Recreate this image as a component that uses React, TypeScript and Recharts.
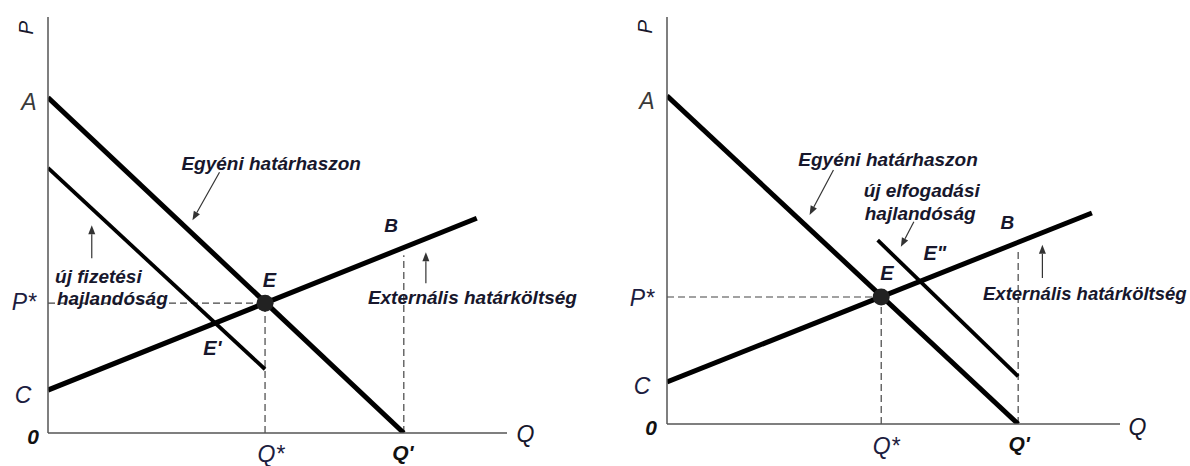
import React from 'react';
import { LineChart, Line, XAxis, YAxis, ReferenceLine, ReferenceDot } from 'recharts';

// curves in (Q, P) units
const demandCurve = [
  { q: 0, p: 10 },
  { q: 10, p: 0 },
];
const mecCurveLeft = [
  { q: 0, p: 1.28 },
  { q: 12.05, p: 6.4 },
];
const mecCurveRight = [
  { q: 0, p: 1.28 },
  { q: 12.1, p: 6.43 },
];
const newPayCurve = [
  { q: 0, p: 7.9 },
  { q: 6.1, p: 1.9 },
];
const newAcceptCurve = [
  { q: 6.0, p: 5.6 },
  { q: 10, p: 1.45 },
];
const equilibrium = { q: 6.1, p: 3.87 };
const qPrime = 10;
const qPrimeGuideTop = 5.3;

const yTickLabels = ['A', 'P*', 'C', '0'];
const xTickLabels = ['Q*', "Q'"];

const Q_MAX = 12.9;
const P_MAX = 12.4;

const FONT = '"Liberation Sans", Arial, Helvetica, sans-serif';
const INK = '#17172c';

type Note = { q: number; p: number; text: string; size?: number; bold?: boolean; anchor?: 'start' | 'middle'; rotate?: boolean };
type Arrow = { from: [number, number]; to: [number, number] };

const labelStyle: Record<string, { size: number; bold: boolean; color: string }> = {
  A: { size: 23, bold: false, color: '#3a3a3a' },
  'P*': { size: 23, bold: false, color: '#1d1d40' },
  C: { size: 23, bold: false, color: '#1d1d40' },
  '0': { size: 21, bold: true, color: '#111' },
  'Q*': { size: 23, bold: false, color: '#1d1d40' },
  "Q'": { size: 21, bold: true, color: '#111' },
};

const renderTick = (labels: string[], offsets: [number, number][]) => (props: any) => {
  const i = props.index;
  const label = labels[i];
  const st = labelStyle[label];
  const [dx, dy] = offsets[i];
  return (
    <text
      x={props.x + dx}
      y={props.y + dy}
      textAnchor="middle"
      dominantBaseline="central"
      fontFamily={FONT}
      fontStyle="italic"
      fontWeight={st.bold ? 'bold' : 'normal'}
      fontSize={st.size}
      fill={st.color}
    >
      {label}
    </text>
  );
};

const arrowShape = (props: any) => {
  const { x1, y1, x2, y2 } = props;
  const ang = Math.atan2(y2 - y1, x2 - x1);
  const len = 9;
  const w = 3.5;
  const bx = x2 - len * Math.cos(ang);
  const by = y2 - len * Math.sin(ang);
  const px = -Math.sin(ang) * w;
  const py = Math.cos(ang) * w;
  return (
    <g>
      <line x1={x1} y1={y1} x2={bx} y2={by} stroke="#333" strokeWidth={1.2} />
      <polygon points={`${x2},${y2} ${bx + px},${by + py} ${bx - px},${by - py}`} fill="#333" />
    </g>
  );
};

function note(key: string, n: Note) {
  return (
    <ReferenceDot
      key={key}
      x={n.q}
      y={n.p}
      r={1}
      ifOverflow="visible"
      shape={(props: any) => (
        <text
          x={props.cx}
          y={props.cy}
          textAnchor={n.anchor || 'start'}
          dominantBaseline={n.rotate ? 'central' : 'alphabetic'}
          transform={n.rotate ? `rotate(-90 ${props.cx} ${props.cy})` : undefined}
          fontFamily={FONT}
          fontStyle="italic"
          fontWeight={n.bold === false ? 'normal' : 'bold'}
          fontSize={n.size || 19}
          fill={INK}
        >
          {n.text}
        </text>
      )}
    />
  );
}

type PanelCfg = {
  left: number;
  width: number;
  margin: { top: number; right: number; bottom: number; left: number };
  mec: { q: number; p: number }[];
  shifted: { q: number; p: number }[];
  yOffsets: [number, number][];
  xOffsets: [number, number][];
  notes: Note[];
  arrows: Arrow[];
};

function Panel({ cfg }: { cfg: PanelCfg }) {
  const yTicks = [demandCurve[0].p, equilibrium.p, cfg.mec[0].p, 0];
  const xTicks = [equilibrium.q, qPrime];
  const dash = { stroke: '#444', strokeWidth: 1.2, strokeDasharray: '7 4' };
  return (
    <div style={{ position: 'absolute', left: cfg.left, top: 0 }}>
      <LineChart width={cfg.width} height={466} margin={cfg.margin}>
        <XAxis
          type="number"
          dataKey="q"
          domain={[0, Q_MAX]}
          allowDataOverflow
          ticks={xTicks}
          interval={0}
          tickLine={false}
          tickSize={0}
          tickMargin={0}
          height={1}
          axisLine={{ stroke: '#555', strokeWidth: 1.5 }}
          tick={renderTick(xTickLabels, cfg.xOffsets)}
        />
        <YAxis
          type="number"
          dataKey="p"
          domain={[0, P_MAX]}
          allowDataOverflow
          ticks={yTicks}
          interval={0}
          tickLine={false}
          tickSize={0}
          tickMargin={0}
          width={1}
          axisLine={{ stroke: '#555', strokeWidth: 1.5 }}
          tick={renderTick(yTickLabels, cfg.yOffsets)}
        />
        <ReferenceLine segment={[{ x: 0, y: equilibrium.p }, { x: equilibrium.q, y: equilibrium.p }]} {...dash} />
        <ReferenceLine segment={[{ x: equilibrium.q, y: 0 }, { x: equilibrium.q, y: equilibrium.p }]} {...dash} />
        <ReferenceLine segment={[{ x: qPrime, y: 0 }, { x: qPrime, y: qPrimeGuideTop }]} {...dash} />
        <Line data={demandCurve} dataKey="p" stroke="#000" strokeWidth={5} dot={false} activeDot={false} isAnimationActive={false} />
        <Line data={cfg.mec} dataKey="p" stroke="#000" strokeWidth={5} dot={false} activeDot={false} isAnimationActive={false} />
        <Line data={cfg.shifted} dataKey="p" stroke="#000" strokeWidth={3.8} dot={false} activeDot={false} isAnimationActive={false} />
        <ReferenceDot x={equilibrium.q} y={equilibrium.p} r={8.5} fill="#222" stroke="none" />
        {cfg.arrows.map((a, i) => (
          <ReferenceLine
            key={'a' + i}
            segment={[{ x: a.from[0], y: a.from[1] }, { x: a.to[0], y: a.to[1] }]}
            ifOverflow="visible"
            shape={arrowShape}
          />
        ))}
        {cfg.notes.map((n, i) => note('n' + i, n))}
      </LineChart>
    </div>
  );
}

const leftPanel: PanelCfg = {
  left: 0,
  width: 595,
  margin: { top: 17, right: 88, bottom: 32, left: 47 },
  mec: mecCurveLeft,
  shifted: newPayCurve,
  yOffsets: [[-19, 4], [-24, -1], [-25, 5], [-15, 3]],
  xOffsets: [[6, 21], [-1, 19]],
  notes: [
    { q: 3.75, p: 7.83, text: 'Egyéni határhaszon' },
    { q: 0.2, p: 4.46, text: 'új fizetési' },
    { q: 0.25, p: 3.81, text: 'hajlandóság' },
    { q: 6.22, p: 4.35, text: 'E', anchor: 'middle', size: 20 },
    { q: 4.62, p: 2.32, text: "E'", anchor: 'middle', size: 20 },
    { q: 9.64, p: 5.98, text: 'B', anchor: 'middle' },
    { q: 8.99, p: 3.84, text: 'Externális határköltség' },
    { q: 13.42, p: -0.27, text: 'Q', anchor: 'middle', size: 23, bold: false },
    { q: -0.62, p: 12.08, text: 'P', anchor: 'middle', size: 21, bold: false, rotate: true },
  ],
  arrows: [
    { from: [4.82, 7.77], to: [4.06, 6.34] },
    { from: [1.23, 5.21], to: [1.23, 6.19] },
    { from: [10.62, 4.46], to: [10.62, 5.39] },
  ],
};

const rightPanel: PanelCfg = {
  left: 595,
  width: 595,
  margin: { top: 17, right: 70, bottom: 41, left: 71 },
  mec: mecCurveRight,
  shifted: newAcceptCurve,
  yOffsets: [[-20, 5], [-25, 1], [-25, 4], [-16, 3]],
  xOffsets: [[5, 22], [1, 19]],
  notes: [
    { q: 3.74, p: 7.87, text: 'Egyéni határhaszon' },
    { q: 5.6, p: 6.92, text: 'új elfogadási' },
    { q: 5.63, p: 6.22, text: 'hajlandóság' },
    { q: 9.69, p: 5.95, text: 'B', anchor: 'middle' },
    { q: 7.63, p: 5.0, text: 'E"', anchor: 'middle', size: 20 },
    { q: 6.26, p: 4.39, text: 'E', anchor: 'middle', size: 20 },
    { q: 9.0, p: 3.78, text: 'Externális határköltség', size: 18.5 },
    { q: 13.4, p: -0.34, text: 'Q', anchor: 'middle', size: 23, bold: false },
    { q: -0.63, p: 12.1, text: 'P', anchor: 'middle', size: 21, bold: false, rotate: true },
  ],
  arrows: [
    { from: [4.74, 7.74], to: [4.06, 6.37] },
    { from: [7.03, 6.16], to: [6.66, 5.4] },
    { from: [10.69, 4.45], to: [10.69, 5.46] },
  ],
};

export default function App() {
  return (
    <div style={{ position: 'absolute', left: 0, top: 0, width: 1190, height: 466, background: '#fff' }}>
      <Panel cfg={leftPanel} />
      <Panel cfg={rightPanel} />
    </div>
  );
}
